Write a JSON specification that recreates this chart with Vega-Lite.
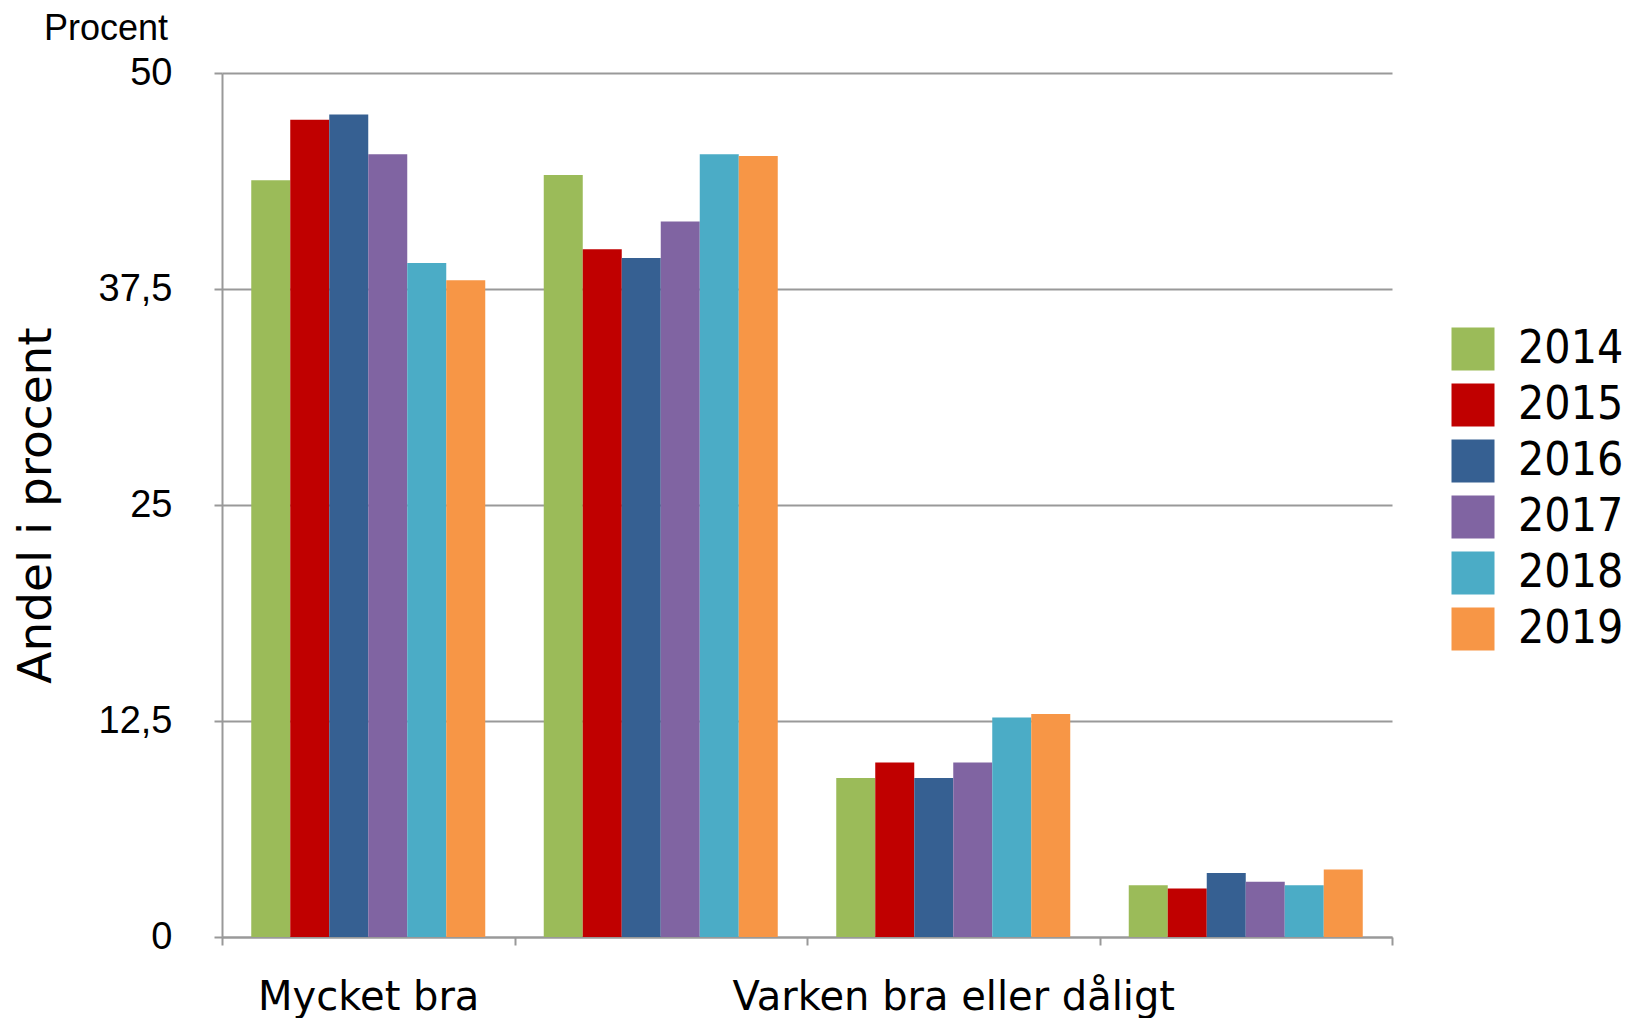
{
  "$schema": "https://vega.github.io/schema/vega-lite/v6.json",
  "width": 1170,
  "height": 864,
  "autosize": {"type": "none"},
  "padding": {"left": 222, "top": 73, "right": 245, "bottom": 81},
  "background": "white",
  "title": {
    "text": "Procent",
    "anchor": "start",
    "frame": "group",
    "orient": "top",
    "dx": -178,
    "dy": 22,
    "offset": 0,
    "baseline": "alphabetic",
    "font": "Liberation Sans",
    "fontSize": 36,
    "fontWeight": "normal",
    "color": "black"
  },
  "data": {
    "values": [
      {"kategori": "Mycket bra", "ar": "2014", "andel": 43.8},
      {"kategori": "Mycket bra", "ar": "2015", "andel": 47.3},
      {"kategori": "Mycket bra", "ar": "2016", "andel": 47.6},
      {"kategori": "Mycket bra", "ar": "2017", "andel": 45.3},
      {"kategori": "Mycket bra", "ar": "2018", "andel": 39.0},
      {"kategori": "Mycket bra", "ar": "2019", "andel": 38.0},
      {"kategori": "Ganska bra", "ar": "2014", "andel": 44.1},
      {"kategori": "Ganska bra", "ar": "2015", "andel": 39.8},
      {"kategori": "Ganska bra", "ar": "2016", "andel": 39.3},
      {"kategori": "Ganska bra", "ar": "2017", "andel": 41.4},
      {"kategori": "Ganska bra", "ar": "2018", "andel": 45.3},
      {"kategori": "Ganska bra", "ar": "2019", "andel": 45.2},
      {"kategori": "Varken bra eller dåligt", "ar": "2014", "andel": 9.2},
      {"kategori": "Varken bra eller dåligt", "ar": "2015", "andel": 10.1},
      {"kategori": "Varken bra eller dåligt", "ar": "2016", "andel": 9.2},
      {"kategori": "Varken bra eller dåligt", "ar": "2017", "andel": 10.1},
      {"kategori": "Varken bra eller dåligt", "ar": "2018", "andel": 12.7},
      {"kategori": "Varken bra eller dåligt", "ar": "2019", "andel": 12.9},
      {"kategori": "Dåligt", "ar": "2014", "andel": 3.0},
      {"kategori": "Dåligt", "ar": "2015", "andel": 2.8},
      {"kategori": "Dåligt", "ar": "2016", "andel": 3.7},
      {"kategori": "Dåligt", "ar": "2017", "andel": 3.2},
      {"kategori": "Dåligt", "ar": "2018", "andel": 3.0},
      {"kategori": "Dåligt", "ar": "2019", "andel": 3.9}
    ]
  },
  "mark": {"type": "bar"},
  "encoding": {
    "x": {
      "field": "kategori",
      "type": "nominal",
      "sort": ["Mycket bra", "Ganska bra", "Varken bra eller dåligt", "Dåligt"],
      "scale": {"paddingInner": 0, "paddingOuter": 0},
      "axis": {
        "title": null,
        "labelAngle": 0,
        "labelExpr": "datum.value == 'Ganska bra' || datum.value == 'Dåligt' ? '' : datum.label",
        "labelFont": "DejaVu Sans",
        "labelFontSize": 40,
        "labelColor": "black",
        "labelPadding": 32,
        "labelOverlap": false,
        "labelLimit": 0,
        "labelBaseline": "top",
        "tickBand": "extent",
        "tickSize": 8,
        "tickColor": "#999999",
        "tickWidth": 2,
        "domainColor": "#999999",
        "domainWidth": 2,
        "grid": false
      }
    },
    "xOffset": {
      "field": "ar",
      "type": "nominal",
      "scale": {"paddingInner": 0, "paddingOuter": 0.75}
    },
    "y": {
      "field": "andel",
      "type": "quantitative",
      "scale": {"domain": [0, 50], "nice": false, "zero": true},
      "axis": {
        "title": "Andel i procent",
        "titleFont": "DejaVu Sans",
        "titleFontSize": 47,
        "titleFontWeight": "normal",
        "titleColor": "black",
        "titleAngle": -90,
        "titleX": -186,
        "titleY": 432,
        "titleAlign": "center",
        "titleBaseline": "middle",
        "values": [0, 12.5, 25, 37.5, 50],
        "labelExpr": "replace(format(datum.value, ''), '.', ',')",
        "labelFont": "Liberation Sans",
        "labelFontSize": 38,
        "labelColor": "black",
        "labelPadding": 42,
        "tickSize": 8,
        "tickColor": "#999999",
        "tickWidth": 2,
        "domainColor": "#999999",
        "domainWidth": 2,
        "grid": true,
        "gridColor": "#999999",
        "gridWidth": 2
      }
    },
    "color": {
      "field": "ar",
      "type": "nominal",
      "scale": {
        "domain": ["2014", "2015", "2016", "2017", "2018", "2019"],
        "range": ["#9BBB59", "#C00000", "#366092", "#8064A2", "#4BACC6", "#F79646"]
      },
      "legend": {
        "title": null,
        "orient": "none",
        "legendX": 1228,
        "legendY": 253,
        "padding": 0,
        "symbolType": "square",
        "symbolSize": 1849,
        "symbolStrokeWidth": 0,
        "symbolOpacity": 1,
        "labelFont": "DejaVu Sans Condensed",
        "labelFontSize": 46,
        "labelColor": "black",
        "labelOffset": 22,
        "rowPadding": 10
      }
    }
  },
  "config": {
    "view": {"stroke": null}
  }
}
